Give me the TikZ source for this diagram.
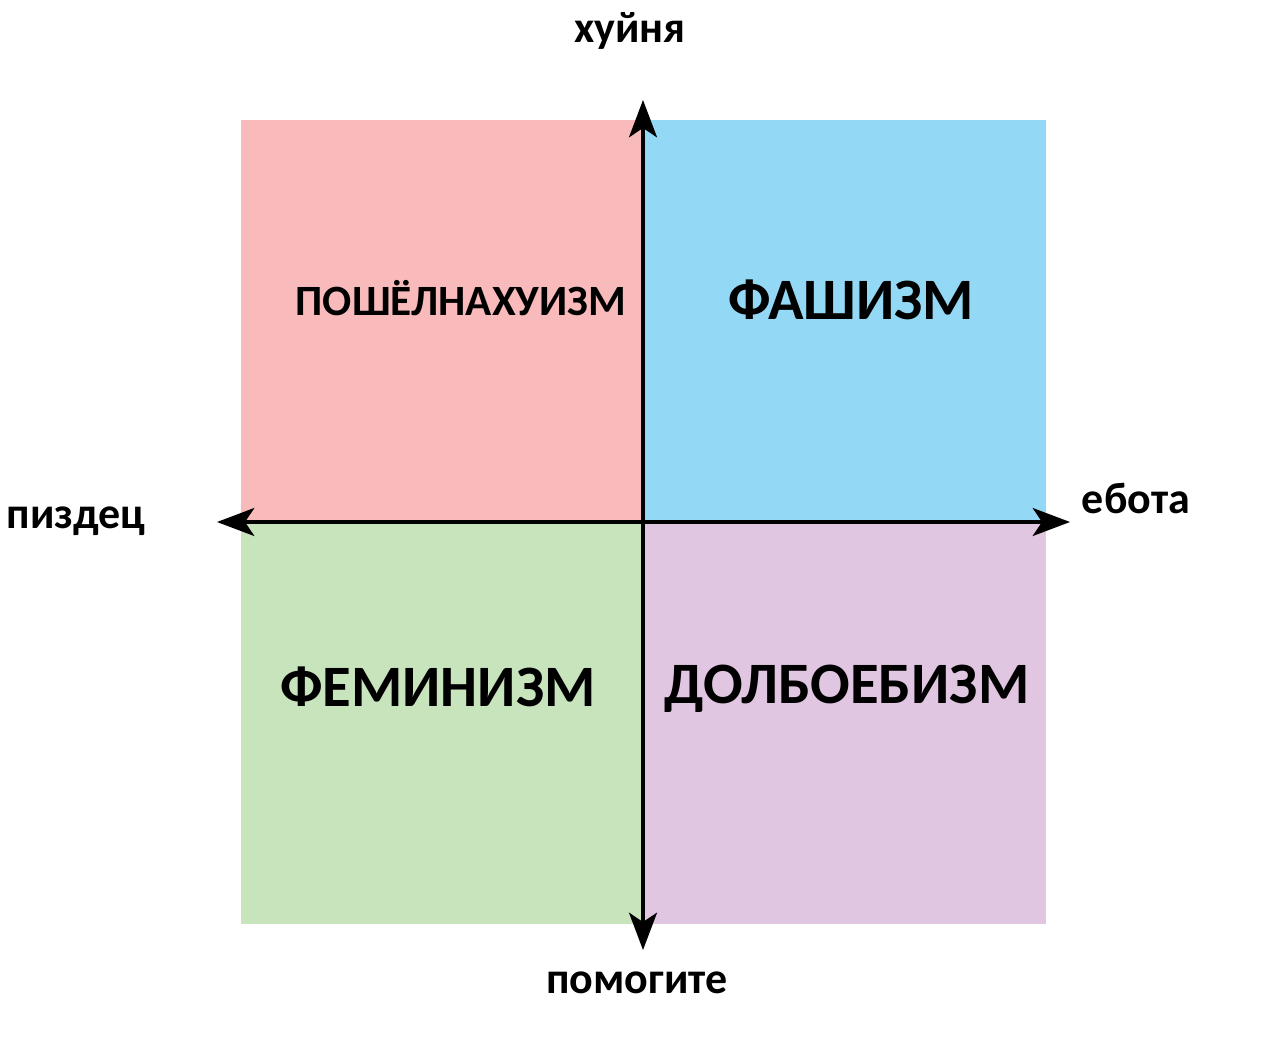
\documentclass[tikz,border=0pt]{standalone}
\usepackage{fontspec}
\setmainfont{Carlito}
\usepackage{xcolor}
\usetikzlibrary{arrows.meta}

\definecolor{pinkq}{HTML}{F8BABA}
\definecolor{blueq}{HTML}{93D9F6}
\definecolor{greenq}{HTML}{C8E4BC}
\definecolor{lilacq}{HTML}{E0C6E0}

\begin{document}
\begin{tikzpicture}[x=0.75pt,y=-0.75pt,
    axis/.style={line width=2.3pt,-{Stealth[length=28pt,width=21pt,inset=7pt]}},
    axislabel/.style={anchor=base,font=\bfseries\fontsize{33}{40}\selectfont},
    biglabel/.style={anchor=base,font=\bfseries\fontsize{44}{52}\selectfont},
    smalllabel/.style={anchor=base,font=\bfseries\fontsize{32.4}{38}\selectfont}]
  \useasboundingbox (0,0) rectangle (1280,1052);
  \fill[white] (0,0) rectangle (1280,1052);
  % quadrants
  \foreach \x/\y/\c in {241/120/pinkq,643/120/blueq,241/522/greenq,643/522/lilacq} {
    \fill[\c] (\x,\y) rectangle ++(403,402);
  }
  % axes
  \coordinate (o) at (643,522);
  \coordinate (top) at (643,100);
  \coordinate (bottom) at (643,950);
  \coordinate (left) at (217,522);
  \coordinate (right) at (1070,522);
  \draw[axis] (o) -- (top);
  \draw[axis] (o) -- (bottom);
  \draw[axis] (o) -- (left);
  \draw[axis] (o) -- (right);
  % axis labels
  \node[axislabel] (khuinya) at (630,43) {хуйня};
  \node[axislabel] (pomogite) at (637,993) {помогите};
  \node[axislabel] (pizdec) at (76,528) {пиздец};
  \node[axislabel] (ebota) at (1136,513) {ебота};
  % quadrant labels
  \node[smalllabel] (nahuizm) at (461,315) {ПОШЁЛНАХУИЗМ};
  \node[biglabel] (fashizm) at (851,319) {ФАШИЗМ};
  \node[biglabel] (feminizm) at (438,706) {ФЕМИНИЗМ};
  \node[biglabel] (dolboebizm) at (847,703) {ДОЛБОЕБИЗМ};
\end{tikzpicture}
\end{document}
